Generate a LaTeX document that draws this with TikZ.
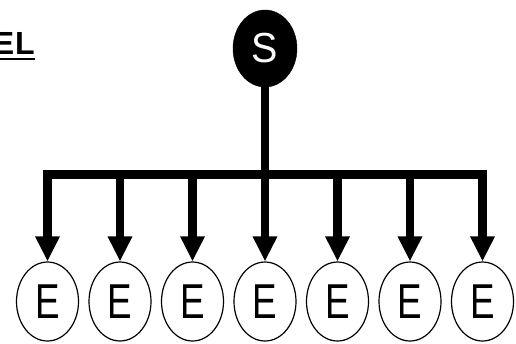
\documentclass[tikz,border=0pt]{standalone}
\usepackage{fontspec}
\setmainfont{Liberation Sans}
\usetikzlibrary{shapes.geometric,arrows.meta}
\tikzset{
  enode/.style={ellipse, draw=black, line width=1.2pt, minimum width=62pt, minimum height=79pt, inner sep=0pt,
    font=\fontsize{49}{49}\selectfont},
  snode/.style={ellipse, fill=black, draw=black, minimum width=64pt, minimum height=77pt, inner sep=0pt,
    text=white, font=\fontsize{42}{42}\selectfont},
  conn/.style={line width=8.5pt, line join=miter, -{Triangle[width=23pt,length=25pt]}},
  conn2/.style={line width=8.5pt, line join=miter, {Triangle[width=23pt,length=25pt]}-{Triangle[width=23pt,length=25pt]}},
}
\begin{document}
\begin{tikzpicture}[x=1pt,y=-1pt]
\useasboundingbox (0,0) rectangle (516,343);
\node[anchor=base east, inner sep=0pt, font=\fontsize{32}{32}\selectfont\bfseries] (title) at (35,54.5) {E\kern1pt L};
\draw[line width=2.2pt] ([yshift=-4.2pt]title.base west) -- ([yshift=-4.2pt]title.base east);
\node[snode] (S) at (265,48.5) {\scalebox{0.94}[1]{S}};
\foreach \i in {1,...,7} {
  \node[enode] (E\i) at ({47.5+72.5*(\i-1)},301.5) {\raisebox{-2.5pt}{\scalebox{0.75}[1]{E}}};
}
\coordinate (bar) at (0,174.5);
\draw[conn2] (E1.north) -- (E1.north |- bar) -- (E7.north |- bar) -- (E7.north);
\foreach \i in {2,3,5,6} {
  \draw[conn] (E\i.north |- bar) -- (E\i.north);
}
\draw[conn] (S.south) -- (E4.north);
\end{tikzpicture}
\end{document}
